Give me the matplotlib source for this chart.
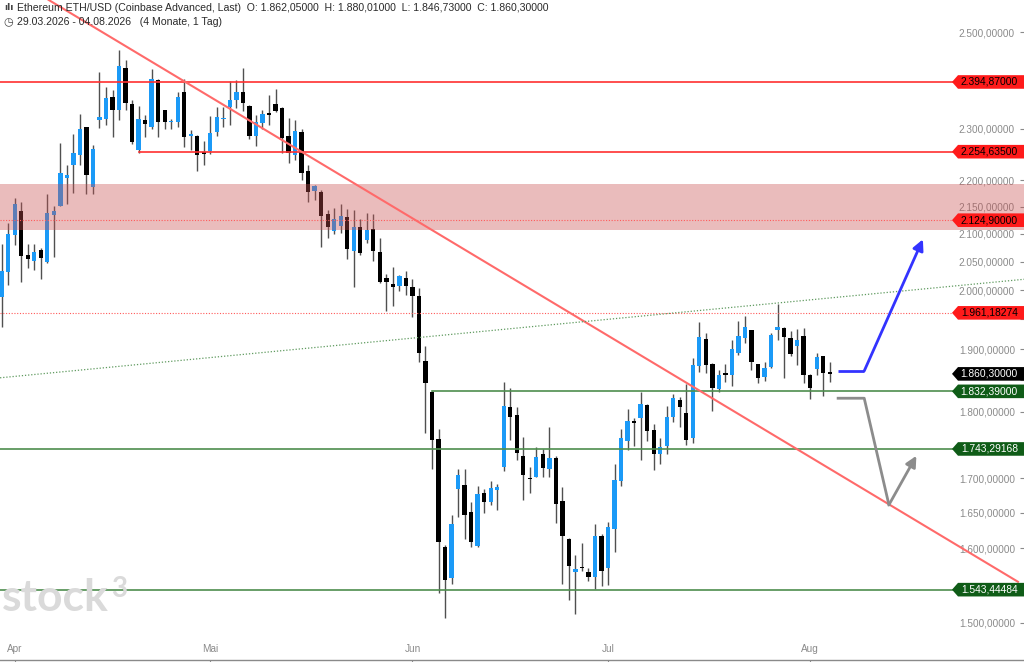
import pandas as pd
import matplotlib
matplotlib.use("Agg")
import matplotlib.pyplot as plt
import matplotlib.dates as mdates
from matplotlib.ticker import FixedLocator, NullLocator, FuncFormatter
from matplotlib.patches import Polygon
from matplotlib.transforms import IdentityTransform

# daily candles, 30.03.2026 - 04.08.2026
dates = pd.date_range("2026-03-30", periods=128, freq="D")
opens = [1989, 2032, 2097, 2141, 2061, 2052, 2070, 2050, 2135, 2152, 2203, 2228, 2249, 2303, 2187, 2317,
         2319, 2364, 2338, 2423, 2350, 2258, 2317, 2303, 2399, 2337, 2313, 2313, 2375, 2286, 2286, 2255,
         2256, 2294, 2319, 2344, 2358, 2374, 2346, 2286, 2311, 2329, 2350, 2341, 2286, 2249, 2293, 2218,
         2179, 2177, 2137, 2105, 2115, 2130, 2069, 2112, 2089, 2108, 2067, 2021, 2010, 2008, 2021, 2005,
         1990, 1881, 1832, 1758, 1601, 1559, 1684, 1690, 1651, 1603, 1678, 1665, 1682, 1716, 1807, 1796,
         1733, 1700, 1701, 1735, 1714, 1730, 1667, 1613, 1567, 1574, 1567, 1560, 1617, 1572, 1626, 1695,
         1756, 1785, 1791, 1811, 1772, 1735, 1747, 1792, 1818, 1798, 1760, 1873, 1917, 1877, 1836, 1860,
         1859, 1894, 1919, 1932, 1876, 1856, 1871, 1932, 1935, 1919, 1905, 1922, 1859, 1868, 1890, 1862.05]
highs = [2082, 2120, 2167, 2158, 2081, 2081, 2074, 2173, 2152, 2271, 2228, 2290, 2329, 2304, 2267, 2415,
         2385, 2378, 2463, 2441, 2358, 2346, 2327, 2422, 2400, 2337, 2319, 2375, 2402, 2297, 2288, 2276,
         2325, 2343, 2343, 2397, 2399, 2423, 2347, 2327, 2338, 2368, 2380, 2344, 2321, 2317, 2299, 2229,
         2191, 2182, 2144, 2147, 2155, 2145, 2144, 2127, 2138, 2136, 2093, 2028, 2040, 2027, 2033, 2019,
         2003, 1906, 1833, 1773, 1604, 1646, 1713, 1713, 1665, 1689, 1684, 1695, 1691, 1847, 1837, 1807,
         1761, 1716, 1746, 1743, 1777, 1733, 1687, 1614, 1591, 1607, 1572, 1634, 1619, 1636, 1721, 1773,
         1805, 1791, 1831, 1812, 1782, 1760, 1810, 1828, 1823, 1844, 1886, 1945, 1928, 1878, 1867, 1876,
         1916, 1948, 1955, 1933, 1877, 1880, 1928, 1977, 1937, 1931, 1934, 1935, 1860, 1895, 1890, 1880.01]
lows = [1938, 2009, 2079, 2015, 2039, 2035, 2019, 2048, 2059, 2151, 2155, 2175, 2228, 2174, 2173, 2302,
        2308, 2284, 2317, 2338, 2270, 2253, 2284, 2299, 2284, 2299, 2299, 2304, 2264, 2258, 2218, 2229,
        2250, 2286, 2304, 2308, 2341, 2336, 2279, 2266, 2299, 2307, 2333, 2253, 2232, 2239, 2201, 2159,
        2162, 2076, 2092, 2100, 2102, 2054, 2006, 2061, 2084, 2051, 2012, 1964, 1973, 1999, 1991, 1954,
        1880, 1768, 1714, 1539, 1506, 1551, 1643, 1612, 1602, 1602, 1650, 1661, 1654, 1711, 1757, 1727,
        1668, 1678, 1701, 1701, 1702, 1635, 1551, 1530, 1511, 1569, 1555, 1544, 1548, 1550, 1595, 1689,
        1742, 1748, 1727, 1756, 1712, 1720, 1736, 1785, 1777, 1749, 1752, 1864, 1861, 1801, 1832, 1848,
        1841, 1891, 1910, 1867, 1845, 1849, 1870, 1916, 1853, 1890, 1874, 1845, 1820, 1859, 1825, 1846.73]
closes = [2034, 2100, 2155, 2060, 2055, 2067, 2057, 2138, 2142, 2213, 2210, 2253, 2299, 2210, 2259, 2323,
          2361, 2338, 2428, 2352, 2273, 2320, 2310, 2400, 2314, 2314, 2315, 2364, 2283, 2289, 2249, 2250,
          2291, 2323, 2321, 2358, 2374, 2352, 2286, 2314, 2329, 2328, 2336, 2281, 2253, 2295, 2213, 2178,
          2189, 2133, 2113, 2127, 2133, 2073, 2112, 2065, 2107, 2069, 2015, 2014, 2005, 2024, 2007, 1990,
          1895, 1845, 1757, 1608, 1556, 1633, 1704, 1647, 1608, 1677, 1665, 1685, 1687, 1809, 1792, 1737,
          1705, 1698, 1731, 1715, 1730, 1662, 1617, 1576, 1571, 1572, 1561, 1617, 1568, 1629, 1697, 1760,
          1786, 1783, 1812, 1771, 1735, 1746, 1792, 1822, 1808, 1757, 1875, 1920, 1875, 1838, 1859, 1859,
          1900, 1922, 1937, 1880, 1853, 1870, 1924, 1938, 1920, 1893, 1916, 1859, 1837, 1887, 1861, 1860.30]

# drawn levels
red_levels = [2394.87, 2254.635]
red_level_start = [None, "2026-04-20"]
red_dotted = [2124.90, 1961.18274]
green_levels = [1832.39, 1743.29168, 1543.44484]
green_level_start = ["2026-06-04", None, None]
last_close = 1860.30
zone_low, zone_high = 2107, 2192

# trend lines and scenario arrows
red_trend_dates = ["2026-04-06 05:00", "2026-09-01 21:00"]
red_trend_prices = [2571, 1554]
green_trend_dates = ["2026-03-29 18:00", "2026-09-02 20:00"]
green_trend_prices = [1854, 2019]
bull_dates = ["2026-08-05 07:00", "2026-08-09 07:00", "2026-08-18 07:00"]
bull_prices = [1865, 1865, 2090]
bear_dates = ["2026-08-05 07:00", "2026-08-09 07:00", "2026-08-13 02:00", "2026-08-17 07:00"]
bear_prices = [1821.5, 1821.5, 1661, 1733]

yticks = [1500, 1550, 1600, 1650, 1700, 1750, 1800, 1850, 1900, 1950, 2000, 2050, 2100, 2150, 2200,
          2300, 2400, 2500]
hidden_ticks = [1550, 1750, 1850, 1950, 2400]   # covered by the price tags
months = ["2026-04-01", "2026-05-01", "2026-06-01", "2026-07-01", "2026-08-01"]
month_labels = ["Apr", "Mai", "Jun", "Jul", "Aug"]

BLUE = "#1b9af7"
FONT = "Liberation Sans"


def de(v):
    s = f"{v:,.5f}"
    return s.replace(",", "X").replace(".", ",").replace("X", ".")


def dn(s):
    return mdates.date2num(pd.Timestamp(s))


fig = plt.figure(figsize=(10.24, 6.62), dpi=100)
ax = fig.add_axes([0, 2 / 662, 1, 660 / 662])
ax.set_yscale("log")

x = mdates.date2num(dates)
x0 = x[0]
ax.set_xlim(x0 - 0.26, x0 + 156.8)
ax.set_ylim(1452.3, 2570.9)

# candles
for xi, o, h, l, c in zip(x, opens, highs, lows, closes):
    up = c >= o
    bot, top = min(o, c), max(o, c)
    hgt = max(top - bot, bot * 0.0013)
    ax.vlines(xi, l, h, color="#505050", lw=1, zorder=2)
    ax.bar(xi, hgt, bottom=bot, width=0.66, color=BLUE if up else "black", zorder=3, linewidth=0)

# resistance zone (over candles)
ax.axhspan(zone_low, zone_high, color="#c85050", alpha=0.38, lw=0, zorder=4)

xr = ax.get_xlim()[1]
for lv, st in zip(red_levels, red_level_start):
    xs = ax.get_xlim()[0] if st is None else dn(st)
    ax.plot([xs, xr], [lv, lv], color="#ff3030", lw=1.2, zorder=5)
for lv in red_dotted:
    ax.axhline(lv, color="#ff5a5a", lw=0.8, ls=(0, (1, 1.5)), zorder=5)
for lv, st in zip(green_levels, green_level_start):
    xs = ax.get_xlim()[0] if st is None else dn(st)
    ax.plot([xs, xr], [lv, lv], color="#4e8e4e", lw=1.2, zorder=5)

ax.plot([dn(d) for d in red_trend_dates], red_trend_prices, color="#ff6a6a", lw=1.5, zorder=5)
ax.plot([dn(d) for d in green_trend_dates], green_trend_prices, color="#5f9a5f", lw=0.9,
        ls=(0, (1, 1.5)), zorder=5)

bx = [dn(d) for d in bull_dates]
ax.plot(bx[:-1], bull_prices[:-1], color="#3333ff", lw=2, zorder=6, solid_capstyle="butt")
ax.annotate("", xy=(bx[-1], bull_prices[-1]), xytext=(bx[-2], bull_prices[-2]),
            arrowprops=dict(arrowstyle="-|>", color="#3333ff", lw=2, mutation_scale=16, shrinkA=0, shrinkB=0),
            zorder=6)
gx = [dn(d) for d in bear_dates]
ax.plot(gx[:-1], bear_prices[:-1], color="#8c8c8c", lw=2, zorder=6)
ax.annotate("", xy=(gx[-1], bear_prices[-1]), xytext=(gx[-2], bear_prices[-2]),
            arrowprops=dict(arrowstyle="-|>", color="#8c8c8c", lw=2, mutation_scale=16, shrinkA=0, shrinkB=0),
            zorder=6)

# axes styling
for sp in ["top", "left", "right"]:
    ax.spines[sp].set_visible(False)
ax.spines["bottom"].set_color("#8a8a8a")
ax.spines["bottom"].set_linewidth(1)

ax.yaxis.tick_right()
ax.yaxis.set_major_locator(FixedLocator(yticks))
ax.yaxis.set_minor_locator(NullLocator())
ax.yaxis.set_major_formatter(FuncFormatter(lambda v, p: "" if round(v) in hidden_ticks else de(v)))
ax.yaxis.set_minor_formatter(FuncFormatter(lambda v, p: ""))
ax.tick_params(axis="y", direction="in", length=3, color="#8a8a8a", pad=-6.5,
               labelsize=7.2, labelcolor="#8a8a8a")
for lab in ax.get_yticklabels():
    lab.set_horizontalalignment("right")
    lab.set_fontfamily(FONT)

ax.set_xticks([dn(m) for m in months])
ax.set_xticklabels(month_labels)
ax.tick_params(axis="x", direction="out", length=2, color="#8a8a8a", pad=-13.5,
               labelsize=7.2, labelcolor="#8a8a8a")
for lab in ax.get_xticklabels():
    lab.set_fontfamily(FONT)
ax.xaxis.set_minor_locator(NullLocator())

# price tags on the right
fig.canvas.draw()
tags = [(v, "#ff1a1a", "black") for v in red_levels + red_dotted] + [(last_close, "black", "white")] + \
       [(v, "#0f5c17", "white") for v in green_levels]
for v, face, tc in tags:
    y = ax.transData.transform((x0, v))[1]
    verts = [(952, y), (958, y + 6.8), (1024, y + 6.8), (1024, y - 6.8), (958, y - 6.8)]
    ax.add_patch(Polygon(verts, closed=True, transform=IdentityTransform(), facecolor=face,
                         edgecolor="none", zorder=8, clip_on=False))
    ax.text(1018, y, de(v), transform=IdentityTransform(), ha="right", va="center", fontsize=7.4,
            color=tc, family=FONT, zorder=9)

# header
fig.text(4 / 1024, 1 - 8 / 662, "ılı", fontsize=6.5, color="#444444", va="center", fontweight="bold")
fig.text(17 / 1024, 1 - 8 / 662,
         "Ethereum ETH/USD (Coinbase Advanced, Last)  O: 1.862,05000  H: 1.880,01000  "
         "L: 1.846,73000  C: 1.860,30000",
         fontsize=7.6, color="#2a2a2a", va="center", family=FONT)
fig.text(3 / 1024, 1 - 22 / 662, "◷", fontsize=8, color="#444444", va="center")
fig.text(17 / 1024, 1 - 22 / 662, "29.03.2026 - 04.08.2026   (4 Monate, 1 Tag)",
         fontsize=7.6, color="#2a2a2a", va="center", family=FONT)

# watermark
fig.text(2 / 1024, 1 - 598 / 662, "stock", fontsize=32, color="#dadada", va="center", family="Lato",
         fontweight="bold")
fig.text(111 / 1024, 1 - 589 / 662, "3", fontsize=20, color="#dadada", va="center", family="Lato",
         fontweight="bold")

fig.savefig("out.png", dpi=100)
